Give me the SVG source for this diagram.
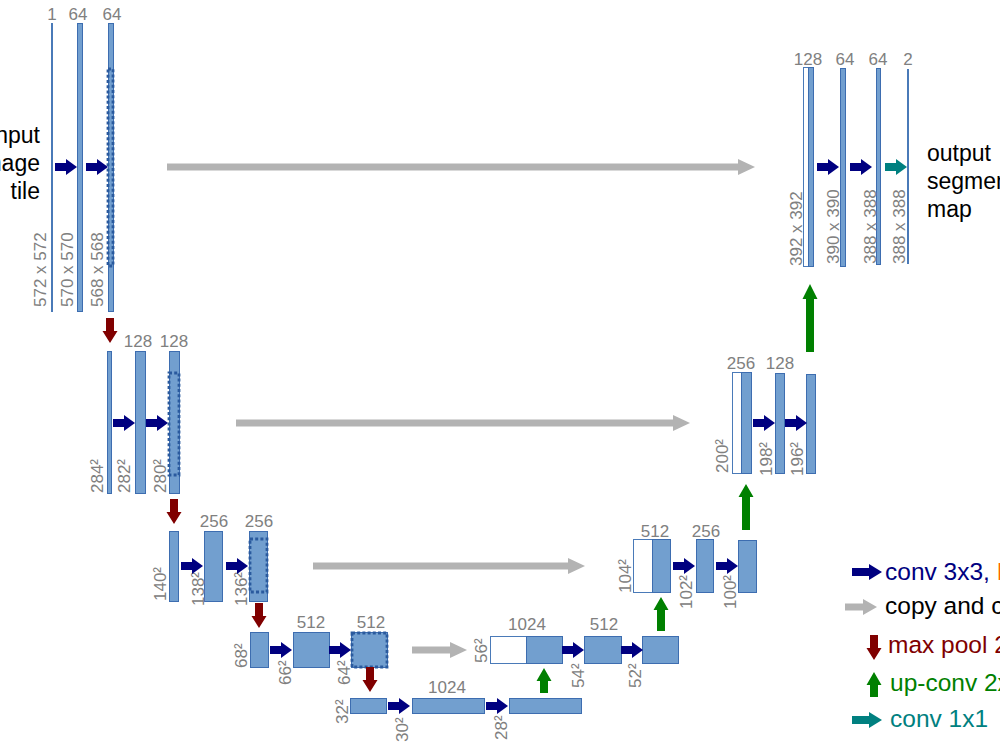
<svg xmlns="http://www.w3.org/2000/svg" xmlns:xlink="http://www.w3.org/1999/xlink" width="1000" height="750" viewBox="0 0 1000 750">
<style>
.bar{fill:#729fcf;stroke:#3d6db0;stroke-width:1}
.wbar{fill:#ffffff;stroke:#4a7ab8;stroke-width:1}
.line{fill:#4a7ab8}
.dot{fill:none;stroke:#2a5a9e;stroke-width:2.8;stroke-dasharray:3 2.2}
.lbl{font-family:"Liberation Sans",Arial,sans-serif;font-size:17px;fill:#808080}
.top{text-anchor:middle}
.big{font-family:"Liberation Sans",Arial,sans-serif;font-size:23px;fill:#000000}
.leg{font-family:"Liberation Sans",Arial,sans-serif;font-size:24.5px}
.gray{fill:#b3b3b3}
.green{fill:#008000}
</style>
<defs>
<polygon id="ab" points="-22,-4 -11,-4 -11,-8 0,0 -11,8 -11,4 -22,4" fill="#000080"/>
<polygon id="at" points="-22,-4 -11,-4 -11,-8 0,0 -11,8 -11,4 -22,4" fill="#008080"/>
<polygon id="ar" points="-4,-25 4,-25 4,-12 7.5,-12 0,0 -7.5,-12 -4,-12" fill="#800000"/>
</defs>
<rect width="1000" height="750" fill="#ffffff"/>

<!-- input text -->
<g id="input-label" class="big" text-anchor="end">
<text x="40" y="143">input</text>
<text x="40" y="171">image</text>
<text x="40" y="199">tile</text>
</g>

<!-- level 1 down -->
<g id="n-572">
<rect class="line" x="51" y="23" width="2" height="289"/>
<text class="lbl top" x="52" y="20">1</text>
<text class="lbl" transform="translate(46,307) rotate(-90)">572 x 572</text>
</g>
<g id="n-570">
<rect class="bar" x="77.5" y="23.5" width="5" height="288"/>
<text class="lbl top" x="78" y="20">64</text>
<text class="lbl" transform="translate(73,307) rotate(-90)">570 x 570</text>
</g>
<g id="n-568">
<rect class="bar" x="108.5" y="23.5" width="5" height="288"/>
<rect class="dot" x="108" y="69" width="5" height="197"/>
<text class="lbl top" x="112" y="20">64</text>
<text class="lbl" transform="translate(103,307) rotate(-90)">568 x 568</text>
</g>

<!-- level 2 down -->
<g id="n-284">
<rect class="bar" x="107.5" y="351.5" width="4" height="142"/>
<text class="lbl" transform="translate(103,493) rotate(-90)">284²</text>
</g>
<g id="n-282">
<rect class="bar" x="135.5" y="351.5" width="10" height="142"/>
<text class="lbl top" x="138" y="347">128</text>
<text class="lbl" transform="translate(130,493) rotate(-90)">282²</text>
</g>
<g id="n-280">
<rect class="bar" x="169.5" y="351.5" width="10" height="142"/>
<rect class="dot" x="169" y="373" width="10" height="102"/>
<text class="lbl top" x="174" y="347">128</text>
<text class="lbl" transform="translate(166,493) rotate(-90)">280²</text>
</g>

<!-- level 3 down -->
<g id="n-140">
<rect class="bar" x="169.5" y="531.5" width="9" height="70"/>
<text class="lbl" transform="translate(166,601) rotate(-90)">140²</text>
</g>
<g id="n-138">
<rect class="bar" x="204.5" y="531.5" width="18" height="70"/>
<text class="lbl top" x="214" y="527">256</text>
<text class="lbl" transform="translate(204,606) rotate(-90)">138²</text>
</g>
<g id="n-136">
<rect class="bar" x="249.5" y="531.5" width="18" height="70"/>
<rect class="dot" x="250" y="539" width="17" height="53"/>
<text class="lbl top" x="259" y="527">256</text>
<text class="lbl" transform="translate(247,606) rotate(-90)">136²</text>
</g>

<!-- level 4 down -->
<g id="n-68">
<rect class="bar" x="250.5" y="632.5" width="18" height="35"/>
<text class="lbl" transform="translate(247,668) rotate(-90)">68²</text>
</g>
<g id="n-66">
<rect class="bar" x="293.5" y="632.5" width="36" height="35"/>
<text class="lbl top" x="311" y="628">512</text>
<text class="lbl" transform="translate(291,685) rotate(-90)">66²</text>
</g>
<g id="n-64">
<rect class="bar" x="351.5" y="632.5" width="36" height="35"/>
<rect class="dot" x="352" y="633" width="35" height="34"/>
<text class="lbl top" x="371" y="628">512</text>
<text class="lbl" transform="translate(350,685) rotate(-90)">64²</text>
</g>

<!-- level 5 bottom -->
<g id="n-32">
<rect class="bar" x="350.5" y="698.5" width="36" height="15"/>
<text class="lbl" transform="translate(348,724) rotate(-90)">32²</text>
</g>
<g id="n-30">
<rect class="bar" x="412.5" y="698.5" width="72" height="15"/>
<text class="lbl top" x="447" y="693">1024</text>
<text class="lbl" transform="translate(408,742) rotate(-90)">30²</text>
</g>
<g id="n-28">
<rect class="bar" x="509.5" y="698.5" width="72" height="15"/>
<text class="lbl" transform="translate(507,740) rotate(-90)">28²</text>
</g>

<!-- level 4 up -->
<g id="n-56">
<rect class="wbar" x="490.5" y="636.5" width="36" height="27"/>
<rect class="bar" x="526.5" y="636.5" width="36" height="27"/>
<text class="lbl top" x="527" y="630">1024</text>
<text class="lbl" transform="translate(487,663) rotate(-90)">56²</text>
</g>
<g id="n-54">
<rect class="bar" x="584.5" y="636.5" width="37" height="27"/>
<text class="lbl top" x="604" y="630">512</text>
<text class="lbl" transform="translate(584,688) rotate(-90)">54²</text>
</g>
<g id="n-52">
<rect class="bar" x="642.5" y="636.5" width="36" height="27"/>
<text class="lbl" transform="translate(641,688) rotate(-90)">52²</text>
</g>

<!-- level 3 up -->
<g id="n-104">
<rect class="wbar" x="633.5" y="539.5" width="19" height="53"/>
<rect class="bar" x="652.5" y="539.5" width="18" height="53"/>
<text class="lbl top" x="655" y="537">512</text>
<text class="lbl" transform="translate(631,593) rotate(-90)">104²</text>
</g>
<g id="n-102">
<rect class="bar" x="696.5" y="539.5" width="17" height="53"/>
<text class="lbl top" x="706" y="537">256</text>
<text class="lbl" transform="translate(692,609) rotate(-90)">102²</text>
</g>
<g id="n-100">
<rect class="bar" x="738.5" y="540.5" width="18" height="52"/>
<text class="lbl" transform="translate(736,609) rotate(-90)">100²</text>
</g>

<!-- level 2 up -->
<g id="n-200">
<rect class="wbar" x="732.5" y="372.5" width="9" height="101"/>
<rect class="bar" x="741.5" y="372.5" width="10" height="101"/>
<text class="lbl top" x="741" y="369">256</text>
<text class="lbl" transform="translate(728,473) rotate(-90)">200²</text>
</g>
<g id="n-198">
<rect class="bar" x="775.5" y="373.5" width="9" height="100"/>
<text class="lbl top" x="780" y="369">128</text>
<text class="lbl" transform="translate(772,476) rotate(-90)">198²</text>
</g>
<g id="n-196">
<rect class="bar" x="806.5" y="374.5" width="9" height="99"/>
<text class="lbl" transform="translate(803,476) rotate(-90)">196²</text>
</g>

<!-- level 1 up -->
<g id="n-392">
<rect class="wbar" x="803.5" y="67.5" width="5" height="199"/>
<rect class="bar" x="808.5" y="67.5" width="5" height="199"/>
<text class="lbl top" x="808" y="65">128</text>
<text class="lbl" transform="translate(802,266) rotate(-90)">392 x 392</text>
</g>
<g id="n-390">
<rect class="bar" x="840.5" y="68.5" width="5" height="198"/>
<text class="lbl top" x="845" y="65">64</text>
<text class="lbl" transform="translate(839,264) rotate(-90)">390 x 390</text>
</g>
<g id="n-388a">
<rect class="bar" x="876.5" y="68.5" width="4" height="196"/>
<text class="lbl top" x="878" y="65">64</text>
<text class="lbl" transform="translate(876,264) rotate(-90)">388 x 388</text>
</g>
<g id="n-388b">
<rect class="line" x="907" y="69" width="2" height="195"/>
<text class="lbl top" x="908" y="65">2</text>
<text class="lbl" transform="translate(905,264) rotate(-90)">388 x 388</text>
</g>

<g id="output-label" class="big">
<text x="927" y="161">output</text>
<text x="927" y="189">segmentation</text>
<text x="927" y="217">map</text>
</g>

<!-- connectors -->
<g id="connectors">
<use href="#ab" x="77" y="167"/>
<use href="#ab" x="108" y="167"/>
<use href="#ab" x="135" y="423"/>
<use href="#ab" x="168" y="423"/>
<use href="#ab" x="203" y="566"/>
<use href="#ab" x="248" y="566"/>
<use href="#ab" x="292" y="650"/>
<use href="#ab" x="351" y="650"/>
<use href="#ab" x="410" y="706"/>
<use href="#ab" x="508" y="706"/>
<use href="#ab" x="584" y="650"/>
<use href="#ab" x="643" y="650"/>
<use href="#ab" x="695" y="566"/>
<use href="#ab" x="738" y="566"/>
<use href="#ab" x="775" y="423"/>
<use href="#ab" x="807" y="423"/>
<use href="#ab" x="839" y="167"/>
<use href="#ab" x="872" y="167"/>
<use href="#at" x="907" y="167"/>

<use href="#ar" x="110" y="343"/>
<use href="#ar" x="174" y="524"/>
<use href="#ar" x="259" y="628"/>
<use href="#ar" x="370" y="692"/>

<path class="gray" d="M167,163.5 L738,163.5 L738,159 L755,167 L738,175 L738,170.5 L167,170.5 Z"/>
<path class="gray" d="M236,419.5 L673,419.5 L673,415 L690,423 L673,431 L673,426.5 L236,426.5 Z"/>
<path class="gray" d="M313,562.5 L568,562.5 L568,558 L585,566 L568,574 L568,569.5 L313,569.5 Z"/>
<path class="gray" d="M412,646.5 L450,646.5 L450,642 L467,650 L450,658 L450,653.5 L412,653.5 Z"/>

<path class="green" d="M540,693 L540,681 L536.5,681 L544,668 L551.5,681 L548,681 L548,693 Z"/>
<path class="green" d="M657,631 L657,610 L653.5,610 L661,597 L668.5,610 L665,610 L665,631 Z"/>
<path class="green" d="M742,530 L742,497 L738.5,497 L746,484 L753.5,497 L750,497 L750,530 Z"/>
<path class="green" d="M806,352 L806,299 L802.5,299 L810,284 L817.5,299 L814,299 L814,352 Z"/>
</g>

<!-- legend -->
<g id="legend">
<path fill="#000080" d="M852,568 L869,568 L869,564 L882,572 L869,580 L869,576 L852,576 Z"/>
<text class="leg" x="885" y="580" fill="#000080">conv 3x3, <tspan fill="#ff6600">ReLU</tspan></text>
<path fill="#b3b3b3" d="M845,603.5 L863,603.5 L863,599 L877,607 L863,615 L863,610.5 L845,610.5 Z"/>
<text class="leg" x="885" y="614" fill="#000000">copy and crop</text>
<path fill="#800000" d="M870,635 L878,635 L878,648 L881.5,648 L874,660 L866.5,648 L870,648 Z"/>
<text class="leg" x="888" y="653" fill="#800000">max pool 2x2</text>
<path fill="#008000" d="M870,697 L870,685 L866.5,685 L874,672 L881.5,685 L878,685 L878,697 Z"/>
<text class="leg" x="890" y="691" fill="#008000">up-conv 2x2</text>
<path fill="#008080" d="M852,716 L869,716 L869,712 L882,720 L869,728 L869,724 L852,724 Z"/>
<text class="leg" x="890" y="727" fill="#008080">conv 1x1</text>
</g>
</svg>
